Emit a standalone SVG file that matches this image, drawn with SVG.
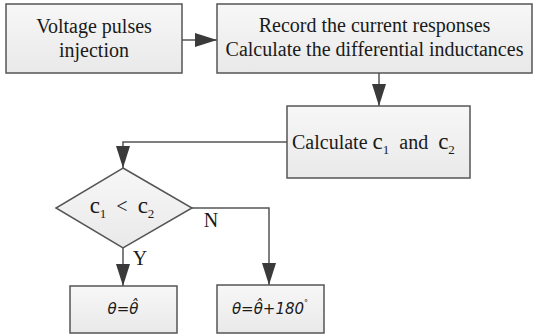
<svg xmlns="http://www.w3.org/2000/svg" width="534" height="334" viewBox="0 0 534 334">
<defs>
<linearGradient id="g" x1="0" y1="0" x2="0" y2="1">
<stop offset="0" stop-color="#f7f7f7"/>
<stop offset="1" stop-color="#e9e9e9"/>
</linearGradient>
<marker id="ahb" viewBox="0 0 22 14" refX="22" refY="7" markerWidth="22" markerHeight="14" markerUnits="userSpaceOnUse" orient="auto">
<path d="M0,0 L22,7 L0,14 z" fill="#3a3a3a"/>
</marker>
</defs>
<style>
.box{fill:url(#g);stroke:#555;stroke-width:1.5}
text.t{font-family:'Liberation Serif','DejaVu Serif',serif;font-size:20px;fill:#1a1a1a;text-anchor:middle}
text.m{font-family:'DejaVu Sans',sans-serif;font-style:italic;font-size:15px;fill:#1a1a1a;text-anchor:middle}
.c{fill:none;stroke:#555;stroke-width:1.5}
</style>
<rect width="534" height="334" fill="#fff"/>
<g id="connectors">
<line class="c" x1="182" y1="40" x2="217" y2="40" marker-end="url(#ahb)"/>
<line class="c" x1="379" y1="73" x2="379" y2="106" marker-end="url(#ahb)"/>
<polyline class="c" points="287,142 123,142 123,168" marker-end="url(#ahb)"/>
<polyline class="c" points="192,208 269,208 269,285" marker-end="url(#ahb)"/>
<line class="c" x1="123" y1="248" x2="123" y2="286" marker-end="url(#ahb)"/>
<text class="t" x="211" y="227">N</text>
<text class="t" x="140" y="265">Y</text>
</g>
<g id="n1">
<rect class="box" x="6" y="4" width="176" height="69"/>
<text class="t" x="94" y="33">Voltage pulses</text>
<text class="t" x="94" y="57">injection</text>
</g>
<g id="n2">
<rect class="box" x="217" y="4" width="315" height="69"/>
<text class="t" x="374.5" y="32">Record the current responses</text>
<text class="t" x="374.5" y="56">Calculate the differential inductances</text>
</g>
<g id="n3">
<rect class="box" x="287" y="106" width="183" height="72"/>
<text class="t" x="292" y="149" style="text-anchor:start" xml:space="preserve">Calculate <tspan font-size="23">c</tspan><tspan font-size="13" dy="5">1</tspan><tspan dy="-5">  and  </tspan><tspan font-size="23">c</tspan><tspan font-size="13" dy="5">2</tspan></text>
</g>
<g id="n4">
<polygon class="box" points="123,168 192,208 123,248 56,208"/>
<text class="t" x="122" y="213" xml:space="preserve"><tspan font-size="23">c</tspan><tspan font-size="13" dy="5">1</tspan><tspan dy="-5">  &lt;  </tspan><tspan font-size="23">c</tspan><tspan font-size="13" dy="5">2</tspan></text>
</g>
<g id="n5">
<rect class="box" x="70" y="286" width="107" height="47"/>
<text class="m" x="123" y="314">θ=θ̂</text>
</g>
<g id="n6">
<rect class="box" x="217" y="285" width="107" height="48"/>
<text class="m" x="270" y="314">θ=θ̂+180<tspan font-size="8" dy="-8">°</tspan></text>
</g>
</svg>
